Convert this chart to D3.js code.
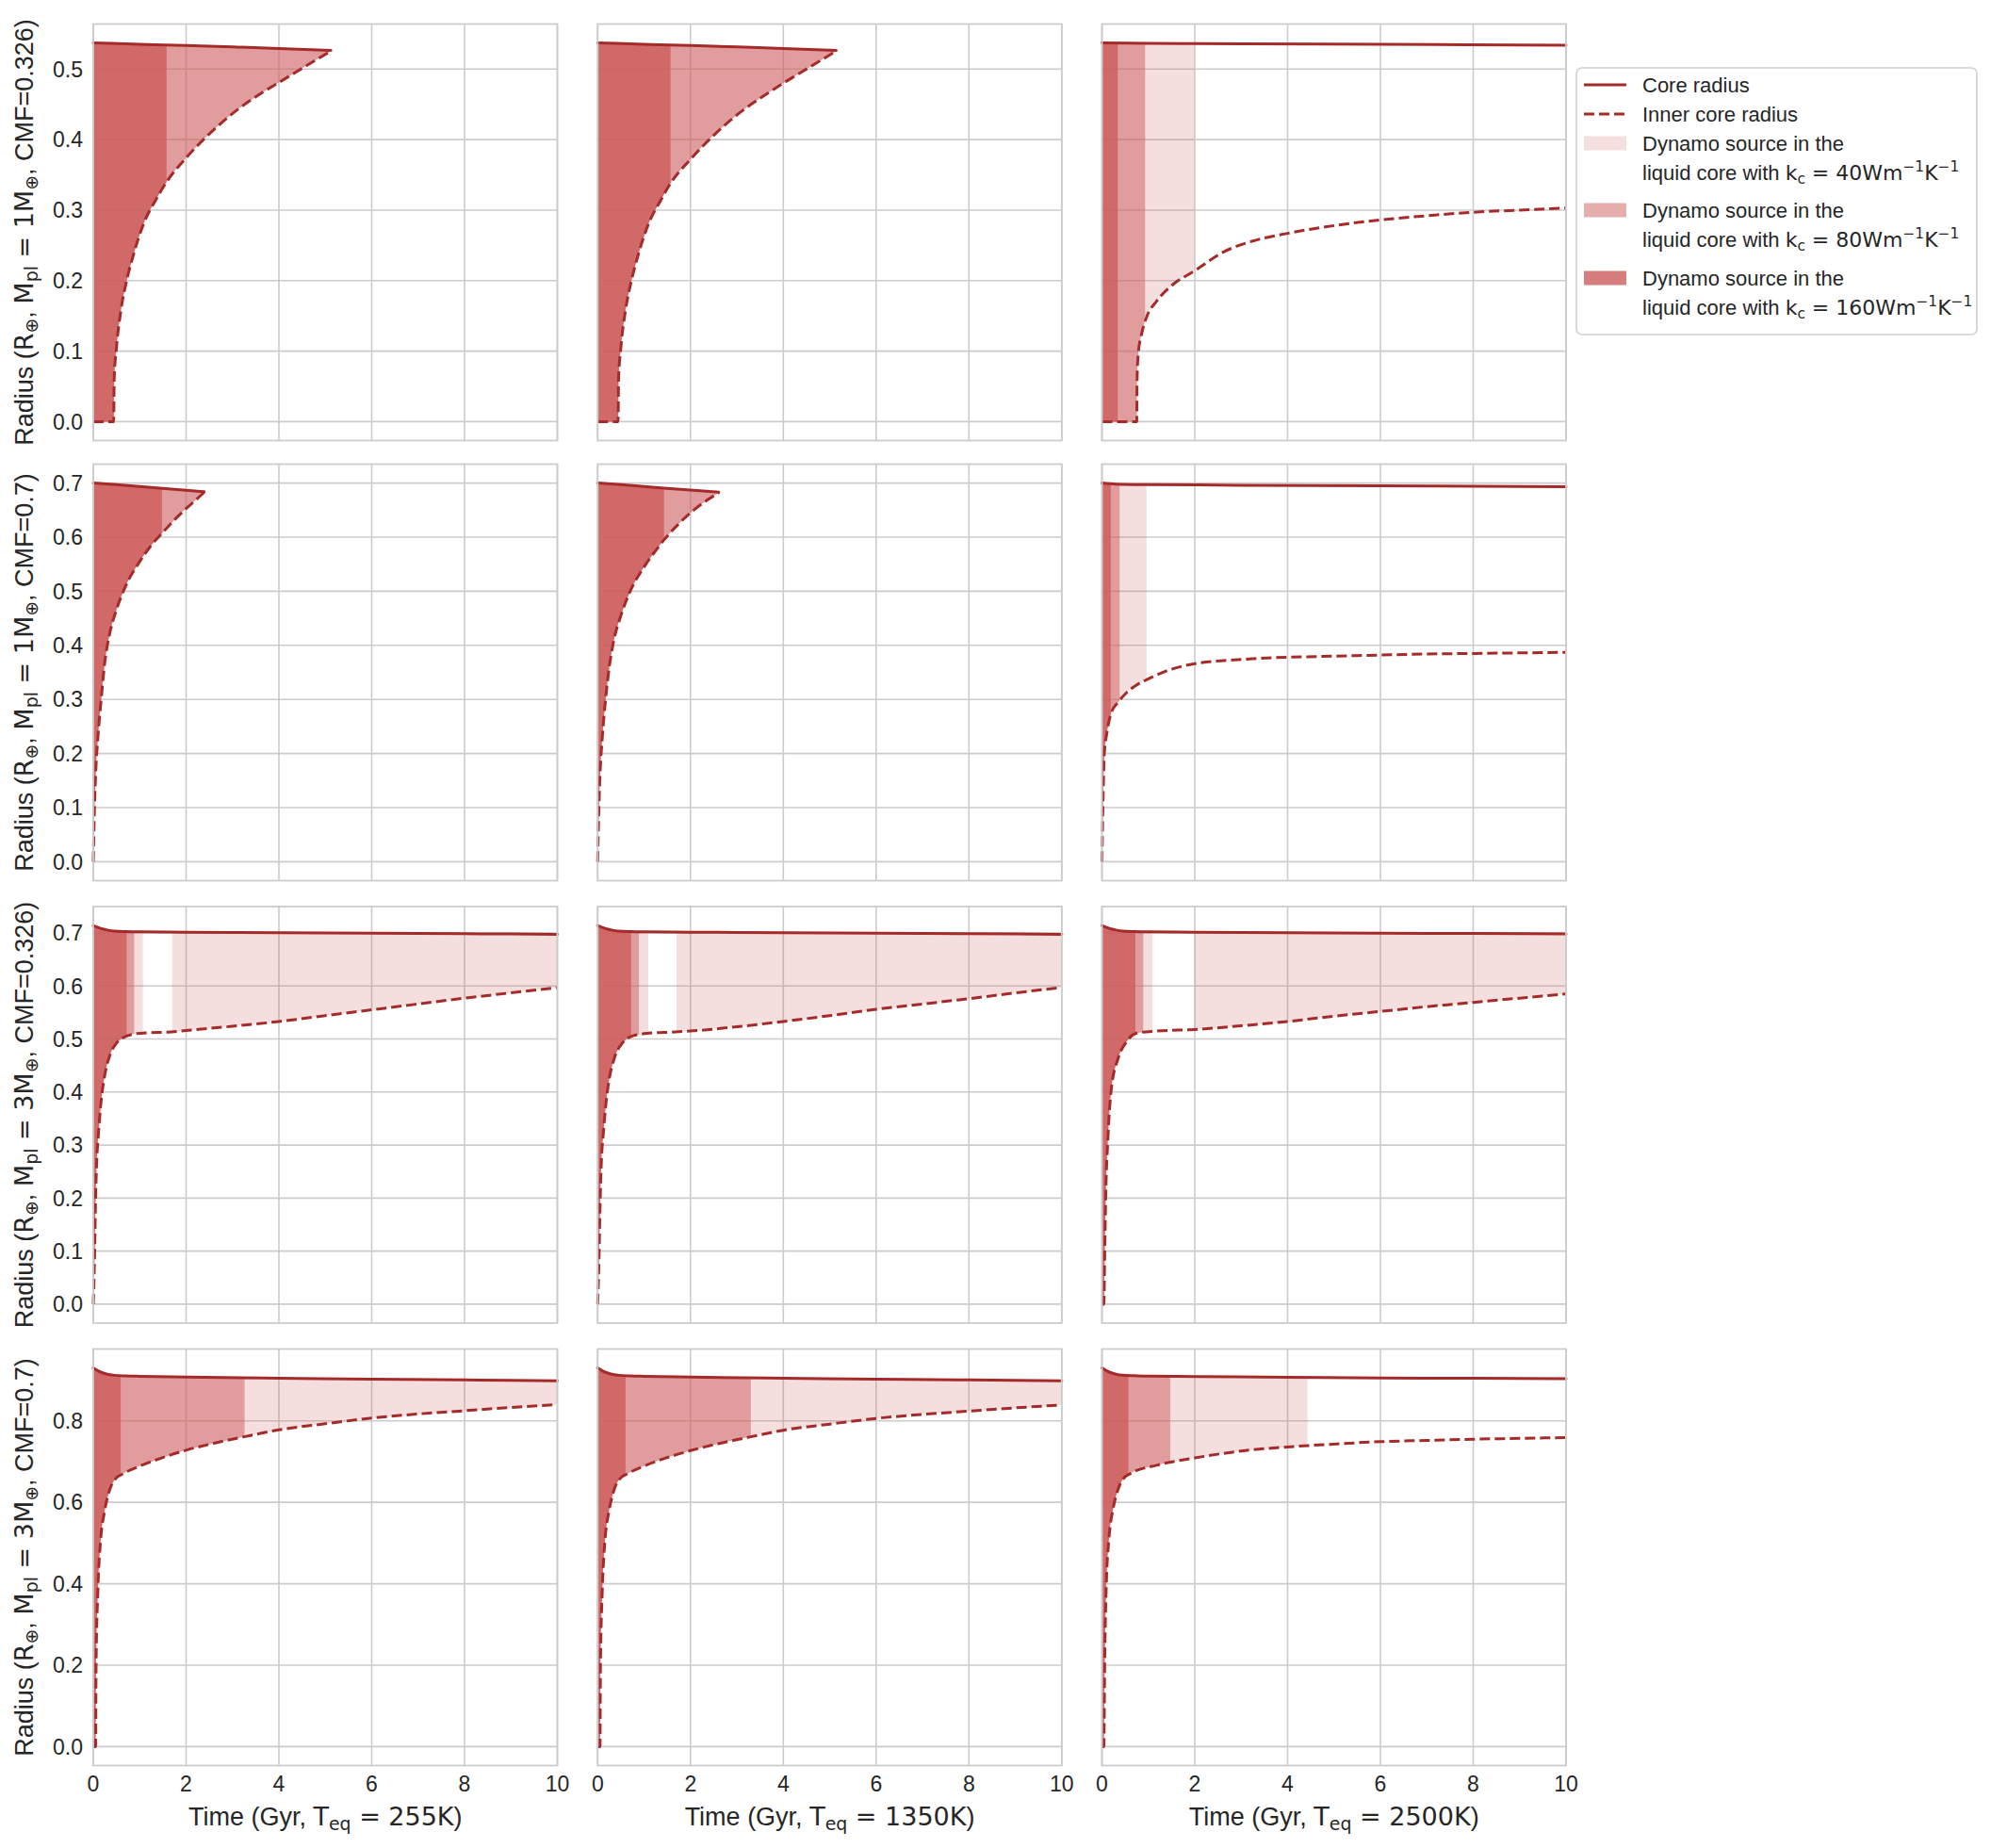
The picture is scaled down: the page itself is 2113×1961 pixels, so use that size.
<!DOCTYPE html>
<html>
<head>
<meta charset="utf-8">
<script src="https://cdnjs.cloudflare.com/ajax/libs/d3/7.8.5/d3.min.js"></script>
<style>
body { margin: 0; background: #fff; }
text { white-space: pre; }
</style>
</head>
<body>
<script>
//labels for the grid of panels
const xTicks = [0, 2, 4, 6, 8, 10];
const teqLabels = ["255K", "1350K", "2500K"];
const massLabels = ["1", "1", "3", "3"];
const cmfLabels = ["0.326", "0.7", "0.326", "0.7"];
const kcLabels = ["40", "80", "160"];
const yTicksRow = [
	[0, 0.1, 0.2, 0.3, 0.4, 0.5],
	[0, 0.1, 0.2, 0.3, 0.4, 0.5, 0.6, 0.7],
	[0, 0.1, 0.2, 0.3, 0.4, 0.5, 0.6, 0.7],
	[0, 0.2, 0.4, 0.6, 0.8]
];

//core radius, [time (Gyr), radius (R_earth)]
//rows A-D = (1M, 0.326) (1M, 0.7) (3M, 0.326) (3M, 0.7), cols 1-3 = Teq 255K, 1350K, 2500K
const coreA1 = [[0, 0.537], [1, 0.5352], [2, 0.5333], [3, 0.5313], [4, 0.5292], [5.12, 0.5265]];
const coreA2 = [[0, 0.537], [1, 0.5352], [2, 0.5333], [3, 0.5313], [4, 0.5292], [5.14, 0.5265]];
const coreA3 = [[0, 0.537], [1, 0.5365], [3, 0.5358], [6, 0.535], [10, 0.5338]];
const coreB1 = [[0, 0.7], [0.5, 0.697], [1, 0.6935], [1.5, 0.69], [2, 0.6865], [2.39, 0.684]];
const coreB2 = [[0, 0.7], [0.5, 0.697], [1, 0.6935], [1.5, 0.69], [2, 0.687], [2.61, 0.683]];
const coreB3 = [[0, 0.7], [0.3, 0.698], [1, 0.697], [3, 0.696], [6, 0.695], [10, 0.693]];
const coreC1 = [[0, 0.714], [0.1, 0.7105], [0.2, 0.7075], [0.3, 0.7055], [0.45, 0.7035], [0.7, 0.7025], [1, 0.702], [2, 0.7015], [4, 0.7005], [6, 0.6995], [8, 0.6985], [10, 0.6975]];
const coreC2 = [[0, 0.714], [0.1, 0.7105], [0.2, 0.7075], [0.3, 0.7055], [0.45, 0.7035], [0.7, 0.7025], [1, 0.702], [2, 0.7015], [4, 0.7005], [6, 0.6995], [8, 0.6985], [10, 0.6975]];
const coreC3 = [[0, 0.714], [0.1, 0.7105], [0.2, 0.7075], [0.3, 0.7055], [0.45, 0.7035], [0.7, 0.7025], [1, 0.702], [2, 0.7015], [4, 0.7005], [6, 0.6995], [8, 0.699], [10, 0.698]];
const coreD1 = [[0, 0.93], [0.1, 0.923], [0.2, 0.918], [0.3, 0.9145], [0.45, 0.912], [0.7, 0.9105], [1, 0.9095], [2, 0.9075], [4, 0.905], [6, 0.9025], [8, 0.9005], [10, 0.8985]];
const coreD2 = [[0, 0.93], [0.1, 0.923], [0.2, 0.918], [0.3, 0.9145], [0.45, 0.912], [0.7, 0.9105], [1, 0.9095], [2, 0.9075], [4, 0.905], [6, 0.9025], [8, 0.9005], [10, 0.8985]];
const coreD3 = [[0, 0.93], [0.1, 0.923], [0.2, 0.918], [0.3, 0.9145], [0.45, 0.912], [0.7, 0.911], [1, 0.910], [2, 0.909], [4, 0.907], [6, 0.9055], [8, 0.9045], [10, 0.9035]];

//inner core radius
const innerA1 = [[0, 0], [0.44, 0], [0.45, 0.06], [0.5, 0.105], [0.6, 0.16], [0.72, 0.2], [0.88, 0.24], [1.08, 0.28], [1.36, 0.316], [1.58, 0.34], [2, 0.374], [2.5, 0.408], [3.1, 0.442], [3.6, 0.465], [4, 0.481], [4.4, 0.497], [4.8, 0.513], [5.12, 0.5255]];
const innerA2 = [[0, 0], [0.44, 0], [0.45, 0.06], [0.5, 0.105], [0.6, 0.158], [0.72, 0.198], [0.88, 0.238], [1.08, 0.278], [1.36, 0.314], [1.57, 0.338], [2, 0.372], [2.5, 0.406], [3.1, 0.44], [3.6, 0.463], [4, 0.48], [4.4, 0.496], [4.8, 0.512], [5.14, 0.5255]];
const innerA3 = [[0, 0], [0.75, 0], [0.755, 0.055], [0.78, 0.095], [0.86, 0.126], [0.96, 0.148], [1.18, 0.171], [1.54, 0.195], [2, 0.214], [2.6, 0.24], [3.3, 0.257], [4, 0.267], [5, 0.278], [6, 0.286], [7, 0.292], [8, 0.297], [9, 0.3], [10, 0.303]];
const innerB1 = [[0, 0], [0.02, 0.08], [0.05, 0.16], [0.1, 0.23], [0.17, 0.3], [0.25, 0.37], [0.35, 0.42], [0.5, 0.466], [0.7, 0.51], [1, 0.555], [1.25, 0.585], [1.48, 0.607], [1.75, 0.632], [2, 0.653], [2.2, 0.668], [2.39, 0.683]];
const innerB2 = [[0, 0], [0.02, 0.08], [0.05, 0.16], [0.1, 0.23], [0.17, 0.3], [0.25, 0.36], [0.35, 0.41], [0.5, 0.455], [0.7, 0.5], [1, 0.545], [1.25, 0.575], [1.43, 0.595], [1.75, 0.625], [2, 0.645], [2.3, 0.665], [2.61, 0.682]];
const innerB3 = [[0, 0], [0.02, 0.1], [0.05, 0.2], [0.1, 0.235], [0.2, 0.275], [0.35, 0.295], [0.5, 0.31], [0.75, 0.327], [1, 0.338], [1.5, 0.356], [2, 0.366], [3, 0.374], [4, 0.378], [5, 0.38], [6, 0.382], [7, 0.384], [8, 0.385], [9, 0.386], [10, 0.387]];
const innerC1 = [[0, 0], [0.03, 0.1], [0.05, 0.2], [0.08, 0.28], [0.11, 0.32], [0.16, 0.375], [0.25, 0.433], [0.36, 0.47], [0.49, 0.491], [0.63, 0.502], [0.85, 0.509], [1.2, 0.512], [1.6, 0.513], [2, 0.516], [3, 0.524], [4, 0.533], [5, 0.544], [6, 0.555], [7, 0.566], [8, 0.577], [9, 0.587], [10, 0.597]];
const innerC2 = [[0, 0], [0.03, 0.09], [0.05, 0.18], [0.08, 0.27], [0.12, 0.32], [0.18, 0.38], [0.25, 0.425], [0.36, 0.464], [0.54, 0.493], [0.76, 0.506], [1.12, 0.511], [1.6, 0.513], [2, 0.515], [3, 0.523], [4, 0.533], [5, 0.544], [6, 0.556], [7, 0.566], [8, 0.576], [9, 0.587], [10, 0.597]];
const innerC3 = [[0, 0], [0.04, 0], [0.06, 0.1], [0.08, 0.2], [0.13, 0.316], [0.2, 0.405], [0.35, 0.464], [0.53, 0.495], [0.75, 0.511], [1.18, 0.515], [2, 0.518], [3, 0.525], [4, 0.533], [5, 0.543], [6, 0.552], [7, 0.561], [8, 0.569], [9, 0.577], [10, 0.585]];
const innerD1 = [[0, 0], [0.05, 0], [0.06, 0.2], [0.1, 0.386], [0.16, 0.51], [0.24, 0.576], [0.36, 0.633], [0.48, 0.658], [0.64, 0.67], [1.04, 0.691], [1.5, 0.71], [2, 0.728], [2.6, 0.745], [3.25, 0.761], [4, 0.778], [5, 0.793], [6, 0.807], [7, 0.817], [8, 0.825], [9, 0.833], [10, 0.84]];
const innerD2 = [[0, 0], [0.05, 0], [0.06, 0.2], [0.1, 0.386], [0.16, 0.51], [0.24, 0.576], [0.36, 0.633], [0.48, 0.658], [0.64, 0.67], [1.04, 0.691], [1.5, 0.71], [2, 0.727], [2.6, 0.744], [3.3, 0.761], [4, 0.777], [5, 0.792], [6, 0.806], [7, 0.816], [8, 0.824], [9, 0.832], [10, 0.839]];
const innerD3 = [[0, 0], [0.04, 0], [0.06, 0.22], [0.09, 0.386], [0.15, 0.51], [0.24, 0.584], [0.35, 0.633], [0.46, 0.658], [0.6, 0.67], [1.18, 0.691], [2, 0.709], [3, 0.726], [4, 0.736], [5, 0.743], [6, 0.749], [7, 0.752], [8, 0.755], [9, 0.757], [10, 0.759]];

//time intervals (Gyr) with an active dynamo, for kc = 40, 80, 160
const dynamoA1 = [[[0, 5.12]], [[0, 5.12]], [[0, 1.58]]];
const dynamoA2 = [[[0, 5.14]], [[0, 5.14]], [[0, 1.57]]];
const dynamoA3 = [[[0, 1.99]], [[0, 0.93]], [[0, 0.34]]];
const dynamoB1 = [[[0, 2.39]], [[0, 2.39]], [[0, 1.48]]];
const dynamoB2 = [[[0, 2.61]], [[0, 2.61]], [[0, 1.43]]];
const dynamoB3 = [[[0, 0.96]], [[0, 0.38]], [[0, 0.19]]];
const dynamoC1 = [[[0, 1.07], [1.7, 10]], [[0, 0.88]], [[0, 0.72]]];
const dynamoC2 = [[[0, 1.09], [1.7, 10]], [[0, 0.89]], [[0, 0.72]]];
const dynamoC3 = [[[0, 1.09], [1.99, 10]], [[0, 0.89]], [[0, 0.72]]];
const dynamoD1 = [[[0, 10]], [[0, 3.26]], [[0, 0.59]]];
const dynamoD2 = [[[0, 10]], [[0, 3.3]], [[0, 0.6]]];
const dynamoD3 = [[[0, 4.43]], [[0, 1.47]], [[0, 0.57]]];

//table of panels built from the arrays above
let grid = [
	[[coreA1, innerA1, dynamoA1], [coreA2, innerA2, dynamoA2], [coreA3, innerA3, dynamoA3]],
	[[coreB1, innerB1, dynamoB1], [coreB2, innerB2, dynamoB2], [coreB3, innerB3, dynamoB3]],
	[[coreC1, innerC1, dynamoC1], [coreC2, innerC2, dynamoC2], [coreC3, innerC3, dynamoC3]],
	[[coreD1, innerD1, dynamoD1], [coreD2, innerD2, dynamoD2], [coreD3, innerD3, dynamoD3]]
];

let svg = d3.select("body").append("svg")
	.attr("width", 2113)
	.attr("height", 1961);

let sans = "'Liberation Sans', Arial, sans-serif";
let math = "'DejaVu Sans', sans-serif";
let ink = "#262626";
let lineColor = "#a52a2a";
let fillColor = "#cd5c5c";
let fillAlpha = [0.2, 0.5, 0.8]; //kc = 40, 80, 160
let gridColor = "#cccccc";
let tickFs = 23;
let labelFs = 27;

let colX = [99, 634.3, 1169.5];
let rowY = [25.5, 492.5, 962, 1431.5];
let panelW = 492.5;
let panelH = 442;

let defs = svg.append("defs");

//writes text made of normal / sub / sup pieces
function richText(sel, parts, fs) {
	let shift = 0;
	parts.forEach(p => {
		let kind = p[1];
		let target = kind === "sub" ? 0.2 * fs : kind === "sup" ? -0.4 * fs : 0;
		let ts = sel.append("tspan").text(p[0]).attr("dy", target - shift);
		shift = target;
		if (kind !== "n") ts.attr("font-size", fs * 0.7);
		if (p[2]) ts.attr("font-family", p[2]);
	});
}

let scaleX = d3.scaleLinear()
	.domain([0, 10])
	.range([0, panelW]);

grid.forEach((rowPanels, r) => {
	//rows share the y range, padded 5% like matplotlib
	let top = d3.max(rowPanels, p => d3.max(p[0], d => d[1]));
	let scaleY = d3.scaleLinear()
		.domain([-0.05 * top, 1.05 * top])
		.range([panelH, 0]);

	let underArea = d3.area()
		.x(d => scaleX(d[0]))
		.y0(panelH)
		.y1(d => scaleY(d[1]))
		.curve(d3.curveMonotoneX);

	let line = d3.line()
		.x(d => scaleX(d[0]))
		.y(d => scaleY(d[1]))
		.curve(d3.curveMonotoneX);

	rowPanels.forEach((p, c) => {
		let core = p[0], inner = p[1], dynamo = p[2];
		let id = `p${r}${c}`;
		let endT = inner[inner.length - 1][0];

		let g = svg.append("g")
			.attr("transform", `translate(${colX[c]}, ${rowY[r]})`);

		//grid lines under the data
		g.selectAll(".vgrid").data(xTicks).enter().append("line")
			.attr("x1", d => scaleX(d)).attr("x2", d => scaleX(d))
			.attr("y1", 0).attr("y2", panelH)
			.attr("stroke", gridColor).attr("stroke-width", 1.6);
		g.selectAll(".hgrid").data(yTicksRow[r]).enter().append("line")
			.attr("x1", 0).attr("x2", panelW)
			.attr("y1", d => scaleY(d)).attr("y2", d => scaleY(d))
			.attr("stroke", gridColor).attr("stroke-width", 1.6);

		//mask hides everything below the inner core curve
		let mask = defs.append("mask")
			.attr("id", "m" + id)
			.attr("maskUnits", "userSpaceOnUse")
			.attr("x", -5).attr("y", -5)
			.attr("width", panelW + 10).attr("height", panelH + 10);
		mask.append("rect")
			.attr("x", -5).attr("y", -5)
			.attr("width", panelW + 10).attr("height", panelH + 10)
			.attr("fill", "white");
		mask.append("path")
			.datum(inner)
			.attr("d", underArea)
			.attr("fill", "black");
		if (endT < 10) { //run stops early: nothing to fill past its end
			mask.append("rect")
				.attr("x", scaleX(endT) - 1)
				.attr("y", -5)
				.attr("width", panelW)
				.attr("height", panelH + 10)
				.attr("fill", "black");
		}

		//one fill per conductivity, clipped to its dynamo intervals
		dynamo.forEach((spans, k) => {
			let clip = defs.append("clipPath").attr("id", `c${id}${k}`);
			clip.selectAll("rect").data(spans).enter().append("rect")
				.attr("x", d => scaleX(d[0]))
				.attr("width", d => scaleX(d[1]) - scaleX(d[0]))
				.attr("y", -5)
				.attr("height", panelH + 10);

			g.append("g")
				.attr("clip-path", `url(#c${id}${k})`)
				.append("path")
				.datum(core)
				.attr("mask", `url(#m${id})`)
				.attr("d", underArea)
				.attr("fill", fillColor)
				.attr("fill-opacity", fillAlpha[k]);
		});

		g.append("path") //inner core radius
			.datum(inner)
			.attr("d", line)
			.attr("fill", "none")
			.attr("stroke", lineColor)
			.attr("stroke-width", 3)
			.attr("stroke-dasharray", "11,5");

		g.append("path") //core radius
			.datum(core)
			.attr("d", line)
			.attr("fill", "none")
			.attr("stroke", lineColor)
			.attr("stroke-width", 3)
			.attr("stroke-linecap", "round");

		g.append("rect") //frame
			.attr("width", panelW)
			.attr("height", panelH)
			.attr("fill", "none")
			.attr("stroke", gridColor)
			.attr("stroke-width", 1.8);

		if (c === 0) {
			g.selectAll(".ytick").data(yTicksRow[r]).enter().append("text")
				.attr("x", -11)
				.attr("y", d => scaleY(d))
				.attr("dy", "0.36em")
				.attr("text-anchor", "end")
				.attr("font-family", sans)
				.attr("font-size", tickFs)
				.attr("fill", ink)
				.text(d => d.toFixed(1));

			let yl = g.append("text")
				.attr("transform", `translate(${35 - colX[0]}, ${panelH / 2}) rotate(-90)`)
				.attr("text-anchor", "middle")
				.attr("font-family", sans)
				.attr("font-size", labelFs)
				.attr("fill", ink);
			richText(yl, [
				["Radius (", "n"], ["R", "n", math], ["⊕", "sub", math], [", ", "n"],
				["M", "n", math], ["pl", "sub", math], [" = " + massLabels[r] + "M", "n", math],
				["⊕", "sub", math], [", CMF=" + cmfLabels[r] + ")", "n"]
			], labelFs);
		}

		if (r === grid.length - 1) {
			g.selectAll(".xtick").data(xTicks).enter().append("text")
				.attr("x", d => scaleX(d))
				.attr("y", panelH + 27)
				.attr("text-anchor", "middle")
				.attr("font-family", sans)
				.attr("font-size", tickFs)
				.attr("fill", ink)
				.text(d => d);

			let xl = g.append("text")
				.attr("x", panelW / 2)
				.attr("y", panelH + 63)
				.attr("text-anchor", "middle")
				.attr("font-family", sans)
				.attr("font-size", labelFs)
				.attr("fill", ink);
			richText(xl, [
				["Time (Gyr, ", "n"], ["T", "n", math], ["eq", "sub", math],
				[" = " + teqLabels[c], "n", math], [")", "n"]
			], labelFs);
		}
	});
});

//legend box on the right of the top row
let legend = svg.append("g")
	.attr("transform", "translate(1673, 72)");

legend.append("rect")
	.attr("width", 425)
	.attr("height", 283)
	.attr("rx", 6)
	.attr("fill", "white")
	.attr("stroke", "#d0d0d0")
	.attr("stroke-width", 1.6);

let legendFs = 22;
let textX = 70;

legend.append("line")
	.attr("x1", 8).attr("x2", 53).attr("y1", 18).attr("y2", 18)
	.attr("stroke", lineColor).attr("stroke-width", 3);
legend.append("text")
	.attr("x", textX).attr("y", 18 + 0.36 * legendFs)
	.attr("font-family", sans).attr("font-size", legendFs).attr("fill", ink)
	.text("Core radius");

legend.append("line")
	.attr("x1", 8).attr("x2", 53).attr("y1", 49).attr("y2", 49)
	.attr("stroke", lineColor).attr("stroke-width", 3)
	.attr("stroke-dasharray", "11,5");
legend.append("text")
	.attr("x", textX).attr("y", 49 + 0.36 * legendFs)
	.attr("font-family", sans).attr("font-size", legendFs).attr("fill", ink)
	.text("Inner core radius");

let patchY = [80, 151, 223];
kcLabels.forEach((kc, k) => {
	legend.append("rect")
		.attr("x", 8).attr("width", 45)
		.attr("y", patchY[k] - 7.5).attr("height", 15)
		.attr("fill", fillColor)
		.attr("fill-opacity", fillAlpha[k]);
	legend.append("text")
		.attr("x", textX).attr("y", patchY[k] + 0.36 * legendFs)
		.attr("font-family", sans).attr("font-size", legendFs).attr("fill", ink)
		.text("Dynamo source in the");
	let t = legend.append("text")
		.attr("x", textX).attr("y", patchY[k] + 31 + 0.36 * legendFs)
		.attr("font-family", sans).attr("font-size", legendFs).attr("fill", ink);
	richText(t, [
		["liquid core with ", "n"], ["k", "n", math], ["c", "sub", math],
		[" = " + kc + "Wm", "n", math], ["−1", "sup", math], ["K", "n", math], ["−1", "sup", math]
	], legendFs);
});
</script>
</body>
</html>
